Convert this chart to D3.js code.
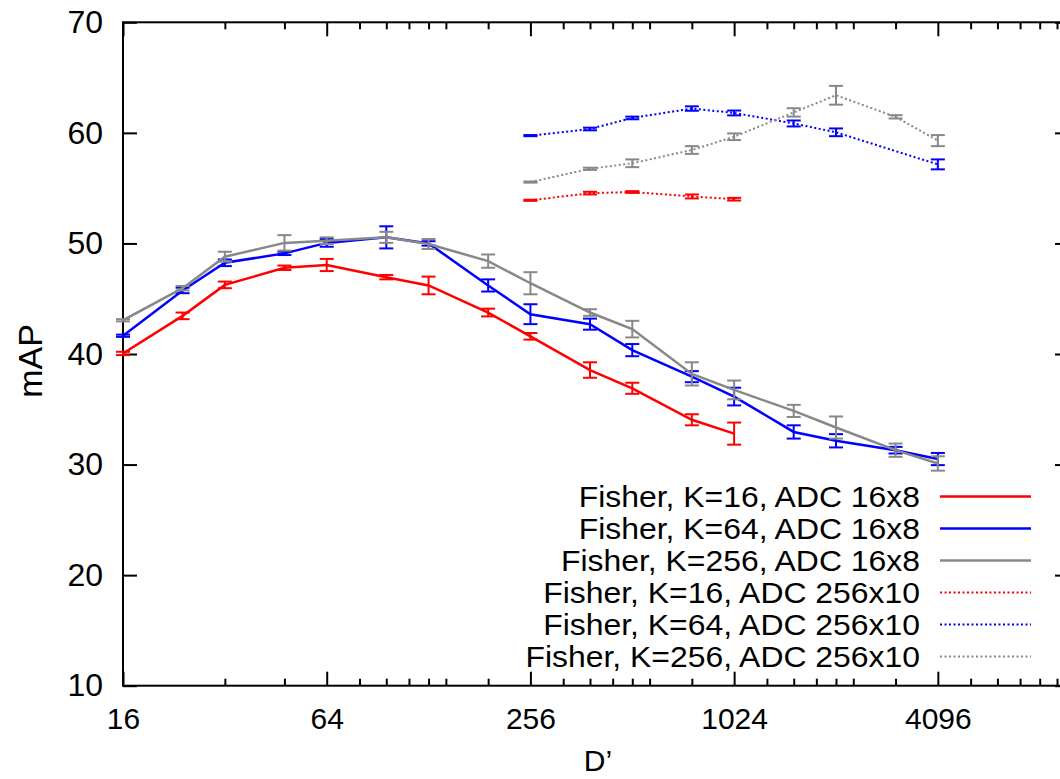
<!DOCTYPE html>
<html>
<head>
<meta charset="utf-8">
<script src="https://cdn.jsdelivr.net/npm/d3@7"></script>
<style>
  body { margin: 0; background: #fff; }
  text { font-family: "Liberation Sans", Arial, Helvetica, sans-serif; fill: #000; }
</style>
</head>
<body>
<div id="chart"></div>
<script>
// D' values where the ADC 16x8 curves were measured
const dimsAll = [16, 24, 32, 48, 64, 96, 128, 192, 256, 384, 512, 768, 1024, 1536, 2048, 3072, 4096];
const dimsRed = dimsAll.slice(0, 13);

// ADC 16x8 (solid)
const k16Adc16 = [40.05, 43.45, 46.25, 47.8, 48.05, 46.95, 46.2, 43.75, 41.6, 38.55, 36.9, 34.05, 32.8];
const k16Adc16Err = [0.15, 0.3, 0.3, 0.2, 0.55, 0.2, 0.8, 0.35, 0.3, 0.7, 0.5, 0.5, 1.0];
const k64Adc16 = [41.65, 45.75, 48.25, 49.1, 50.05, 50.55, 50.0, 46.2, 43.6, 42.7, 40.35, 37.95, 36.15, 32.95, 32.15, 31.3, 30.5];
const k64Adc16Err = [0.1, 0.25, 0.3, 0.15, 0.35, 1.0, 0.2, 0.55, 0.9, 0.5, 0.55, 0.5, 0.8, 0.6, 0.6, 0.3, 0.55];
const k256Adc16 = [43.05, 45.95, 48.8, 50.05, 50.25, 50.55, 49.95, 48.4, 46.4, 43.75, 42.25, 38.2, 36.75, 34.85, 33.35, 31.3, 30.1];
const k256Adc16Err = [0.1, 0.2, 0.45, 0.7, 0.3, 0.5, 0.45, 0.6, 1.0, 0.3, 0.75, 1.05, 0.85, 0.55, 1.0, 0.6, 0.65];

// ADC 256x10 (dotted)
const dimsK16Adc256 = [256, 384, 512, 768, 1024];
const k16Adc256 = [53.9, 54.55, 54.65, 54.25, 54.0];
const k16Adc256Err = [0.05, 0.12, 0.08, 0.18, 0.12];
const dimsK64Adc256 = [256, 384, 512, 768, 1024, 1536, 2048, 4096];
const k64Adc256 = [59.75, 60.35, 61.35, 62.2, 61.8, 60.85, 60.05, 57.15];
const k64Adc256Err = [0.05, 0.12, 0.12, 0.2, 0.22, 0.27, 0.35, 0.45];
const dimsK256Adc256 = [256, 384, 512, 768, 1024, 1536, 2048, 3072, 4096];
const k256Adc256 = [55.55, 56.75, 57.25, 58.45, 59.65, 61.85, 63.4, 61.45, 59.3];
const k256Adc256Err = [0.05, 0.1, 0.35, 0.35, 0.3, 0.38, 0.85, 0.15, 0.5];

const legendLabels = [
  "Fisher, K=16, ADC 16x8", "Fisher, K=64, ADC 16x8", "Fisher, K=256, ADC 16x8",
  "Fisher, K=16, ADC 256x10", "Fisher, K=64, ADC 256x10", "Fisher, K=256, ADC 256x10"
];

// axis ticks
const xMajorTicks = [16, 64, 256, 1024, 4096];
const xMinorTicks = [32, 48, 80, 96, 112, 128, 144, 192, 320, 384, 448, 512, 576, 768,
  1280, 1536, 1792, 2048, 2304, 3072, 5120, 6144, 7168, 8192, 9216];
const yTicks = [10, 20, 30, 40, 50, 60, 70];

const series = [
  {xs: dimsRed, ys: k16Adc16, err: k16Adc16Err, color: "#ff0000", dotted: false},
  {xs: dimsAll, ys: k64Adc16, err: k64Adc16Err, color: "#0000ff", dotted: false},
  {xs: dimsAll, ys: k256Adc16, err: k256Adc16Err, color: "#888888", dotted: false},
  {xs: dimsK16Adc256, ys: k16Adc256, err: k16Adc256Err, color: "#ff0000", dotted: true},
  {xs: dimsK64Adc256, ys: k64Adc256, err: k64Adc256Err, color: "#0000ff", dotted: true},
  {xs: dimsK256Adc256, ys: k256Adc256, err: k256Adc256Err, color: "#888888", dotted: true}
];

const width = 1060, height = 779;
const plot = {left: 123, right: 1069, top: 22.3, bottom: 685.7};

const svg = d3.select("#chart").append("svg")
  .attr("width", width)
  .attr("height", height);

svg.append("rect").attr("width", width).attr("height", height).attr("fill", "#fff");

const x = d3.scaleLog().base(2).domain([16, 10000]).range([plot.left, plot.right]);
const y = d3.scaleLinear().domain([10, 70]).range([plot.bottom, plot.top]);

// clip so lines do not leave the frame
svg.append("defs").append("clipPath").attr("id", "clip")
  .append("rect")
  .attr("x", plot.left).attr("y", plot.top)
  .attr("width", plot.right - plot.left).attr("height", plot.bottom - plot.top);

// axes
const xAxis = svg.append("g")
  .attr("transform", `translate(0,${plot.bottom})`)
  .call(d3.axisBottom(x).tickValues(xMajorTicks).tickSize(-14).tickPadding(22).tickFormat(d3.format("d")));
svg.append("g")
  .attr("transform", `translate(0,${plot.bottom})`)
  .call(d3.axisBottom(x).tickValues(xMinorTicks).tickSize(-7).tickFormat(""));
svg.append("g")
  .attr("transform", `translate(0,${plot.top})`)
  .call(d3.axisTop(x).tickValues(xMajorTicks).tickSize(-14).tickFormat(""));
svg.append("g")
  .attr("transform", `translate(0,${plot.top})`)
  .call(d3.axisTop(x).tickValues(xMinorTicks).tickSize(-7).tickFormat(""));
const yAxis = svg.append("g")
  .attr("transform", `translate(${plot.left},0)`)
  .call(d3.axisLeft(y).tickValues(yTicks).tickSize(-14).tickPadding(20));
svg.append("g")
  .attr("transform", `translate(${plot.right},0)`)
  .call(d3.axisRight(y).tickValues(yTicks).tickSize(-14).tickFormat(""));

svg.selectAll(".domain").remove();
svg.selectAll(".tick line").attr("stroke", "#000").attr("stroke-width", 2);
xAxis.selectAll("text").style("font-size", "30px").attr("fill", "#000");
yAxis.selectAll("text").style("font-size", "32px").attr("fill", "#000");

// frame
svg.append("rect")
  .attr("x", plot.left).attr("y", plot.top)
  .attr("width", plot.right - plot.left).attr("height", plot.bottom - plot.top)
  .attr("fill", "none").attr("stroke", "#000").attr("stroke-width", 2);

// axis titles
svg.append("text")
  .attr("x", (plot.left + plot.right) / 2 + 2)
  .attr("y", 771)
  .attr("text-anchor", "middle")
  .style("font-size", "30px")
  .text("D\u2019");

svg.append("text")
  .attr("transform", "translate(42,361) rotate(-90)")
  .attr("text-anchor", "middle")
  .style("font-size", "34px")
  .text("mAP");

// data lines (clipped) and error bars (not clipped, like gnuplot)
const line = d3.line().x(d => x(d.x)).y(d => y(d.v));
const marks = svg.append("g");

series.forEach(s => {
  const pts = s.xs.map((d, i) => ({x: d, v: s.ys[i], e: s.err[i]}));
  const g = marks.append("g");

  g.append("path")
    .datum(pts)
    .attr("clip-path", "url(#clip)")
    .attr("d", line)
    .attr("fill", "none")
    .attr("stroke", s.color)
    .attr("stroke-width", s.dotted ? 2 : 2.5)
    .attr("stroke-dasharray", s.dotted ? "2,2.5" : null);

  const bars = g.selectAll(".err").data(pts).enter().append("g").attr("class", "err")
    .attr("stroke", s.color).attr("stroke-width", 2);
  bars.append("line")
    .attr("x1", d => x(d.x)).attr("x2", d => x(d.x))
    .attr("y1", d => y(d.v - d.e)).attr("y2", d => y(d.v + d.e));
  bars.append("line")
    .attr("x1", d => x(d.x) - 7).attr("x2", d => x(d.x) + 7)
    .attr("y1", d => y(d.v - d.e)).attr("y2", d => y(d.v - d.e));
  bars.append("line")
    .attr("x1", d => x(d.x) - 7).attr("x2", d => x(d.x) + 7)
    .attr("y1", d => y(d.v + d.e)).attr("y2", d => y(d.v + d.e));
});

// legend: text is a little wider than plain 30px, stretch glyphs slightly
const legendTop = 496.6, legendStep = 32;
const legend = svg.append("g");
series.forEach((s, i) => {
  const ly = legendTop + i * legendStep;
  const t = legend.append("text")
    .attr("x", 920).attr("y", ly + 10.5)
    .attr("text-anchor", "end")
    .style("font-size", "29px")
    .text(legendLabels[i]);
  const w = t.node().getComputedTextLength();
  t.attr("textLength", w * 1.1).attr("lengthAdjust", "spacingAndGlyphs");
  legend.append("line")
    .attr("x1", 940).attr("x2", 1031)
    .attr("y1", ly).attr("y2", ly)
    .attr("stroke", s.color)
    .attr("stroke-width", s.dotted ? 2 : 2.5)
    .attr("stroke-dasharray", s.dotted ? "2,2.5" : null);
});
</script>
</body>
</html>
